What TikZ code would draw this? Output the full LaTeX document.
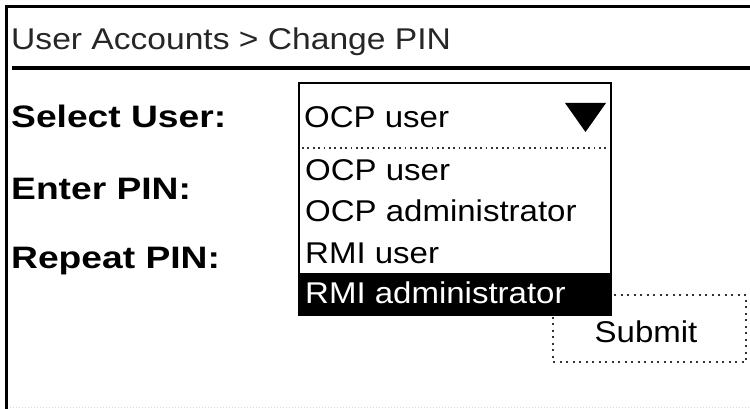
\documentclass[tikz,border=0pt]{standalone}
\usepackage{fontspec}
\newfontfamily\itmfont{Liberation Sans}[FakeStretch=1.1]
\newfontfamily\lblfont{Liberation Sans}[FakeStretch=1.2]
\newfontfamily\hdrfont{Liberation Sans}[FakeStretch=1.12]
\tikzset{
  lbl/.style={anchor=base west, inner sep=0pt, font=\lblfont\bfseries\fontsize{31}{36}\selectfont},
  itm/.style={anchor=base west, inner sep=0pt, font=\itmfont\fontsize{30}{36}\selectfont},
  hdrtext/.style={anchor=base west, inner sep=0pt, text=black!85, font=\hdrfont\fontsize{30}{36}\selectfont},
  dotline/.style={line width=2pt, dash pattern=on 2pt off 4.5pt, draw=black!80},
  border/.style={line width=3pt},
}
\begin{document}
\begin{tikzpicture}[x=1pt,y=-1pt]
\useasboundingbox (0,0) rectangle (750,409);
\fill[white] (0,0) rectangle (750,409);
% frame
\coordinate (bl) at (6,409);
\coordinate (tl) at (6,7);
\coordinate (tr) at (750,7);
\draw[border] (bl) -- (tl) -- (tr);
% header
\node[hdrtext] (hdr) at (11,50) {User Accounts > Change PIN};
\coordinate (sepL) at (12,68);
\coordinate (sepR) at (750,68);
\draw[line width=4pt] (sepL) -- (sepR);
% labels
\node[lbl] (lsel) at (11,128) {Select User:};
\node[lbl] (lent) at (11,200) {Enter PIN:};
\node[lbl] (lrep) at (11,268) {Repeat PIN:};
% submit button (dotted)
\node[dotline, minimum width=193pt, minimum height=67pt, inner sep=0pt,
      font=\itmfont\fontsize{30}{36}\selectfont, text=black] (submit) at (649.5,328.5) {};
\node[itm, anchor=base] (subtxt) at (646,342) {Submit};
% dropdown
\fill[white] (299,83) rectangle (611,315);
\fill[black] (299,273) rectangle (611,315);
\draw[line width=2pt] (299,83) rectangle (611,315);
\coordinate (dotL) at (302,148);
\coordinate (dotR) at (609,148);
\draw[line width=1.8pt, dash pattern=on 1.8pt off 3.6pt, draw=black!80] (dotL) -- (dotR);
\fill (565,103) -- (606,103) -- (585.5,132) -- cycle;
\node[itm] (cur) at (304,128) {OCP user};
\node[itm] (i1) at (305,180) {OCP user};
\node[itm] (i2) at (305,222) {OCP administrator};
\node[itm] (i3) at (305,263) {RMI user};
\node[itm, text=white] (i4) at (305,303) {RMI administrator};
% faint bottom dotted line
\coordinate (botL) at (10,407);
\coordinate (botR) at (750,407);
\draw[line width=1pt, dash pattern=on 1pt off 2pt, draw=black!15] (botL) -- (botR);
\end{tikzpicture}
\end{document}
